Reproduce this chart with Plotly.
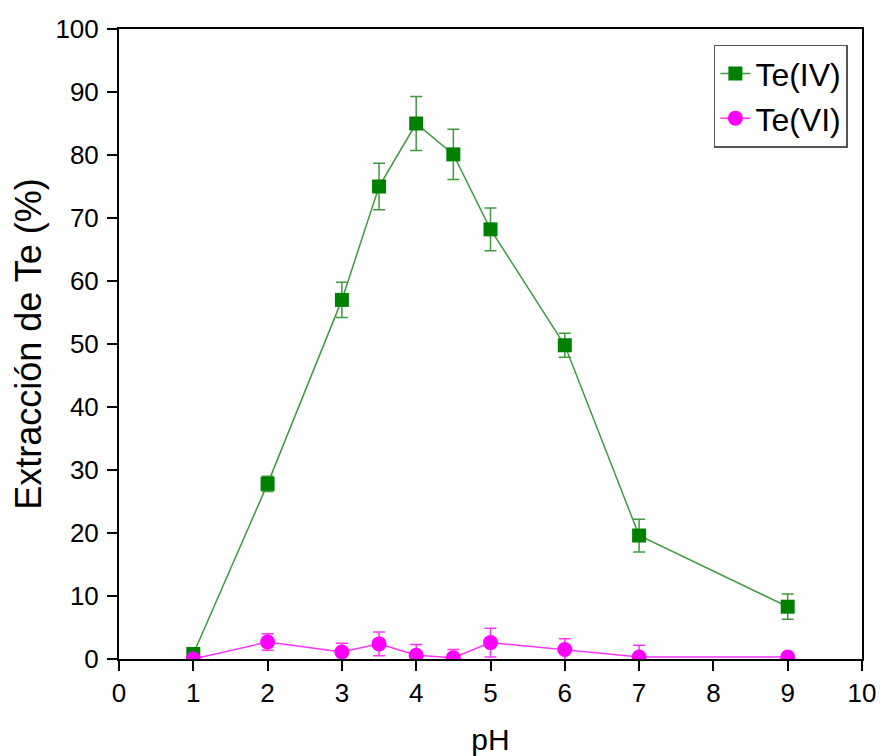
import plotly.graph_objects as go

ph = [1, 2, 3, 3.5, 4, 4.5, 5, 6, 7, 9]
te_iv = [0.8, 27.8, 57.0, 75.0, 85.0, 80.1, 68.2, 49.8, 19.6, 8.3]
te_iv_err = [0.5, 1.2, 2.8, 3.7, 4.3, 4.0, 3.4, 1.9, 2.6, 2.0]
te_vi = [0.0, 2.7, 1.1, 2.4, 0.6, 0.2, 2.6, 1.5, 0.3, 0.3]
te_vi_err = [0.4, 1.3, 1.4, 1.9, 1.7, 1.3, 2.3, 1.7, 1.9, 0.3]

x_ticks = list(range(0, 11))
y_ticks = list(range(0, 101, 10))

FONT = "Liberation Sans, Arial"

fig = go.Figure()
fig.add_trace(go.Scatter(
    x=ph, y=te_iv, name="Te(IV)", mode="lines+markers",
    line=dict(color="#3f9a3f", width=1.5),
    marker=dict(symbol="square", size=14, color="#008000"),
    error_y=dict(type="data", array=te_iv_err, visible=True, color="#3f9a3f", thickness=1.5, width=6),
))
fig.add_trace(go.Scatter(
    x=ph, y=te_vi, name="Te(VI)", mode="lines+markers",
    line=dict(color="#ff33ff", width=1.5),
    marker=dict(symbol="circle", size=15, color="#ff00ff"),
    error_y=dict(type="data", array=te_vi_err, visible=True, color="#ff33ff", thickness=1.5, width=6),
))

axis_common = dict(
    showline=True, linecolor="black", linewidth=2, mirror=True,
    ticks="outside", ticklen=10, tickwidth=2, tickcolor="black",
    showgrid=False, zeroline=False,
    tickfont=dict(family=FONT, size=26, color="black"),
)
fig.update_xaxes(range=[0, 10], tickvals=x_ticks,
                 title=dict(text="pH", font=dict(family=FONT, size=30, color="black"), standoff=22),
                 **axis_common)
fig.update_yaxes(range=[0, 100], tickvals=y_ticks, ticklabelstandoff=3,
                 title=dict(text="Extracción de Te (%)", font=dict(family=FONT, size=36, color="black"), standoff=12),
                 **axis_common)

fig.update_layout(
    width=876, height=748,
    margin=dict(l=111, r=22, t=21, b=97, autoexpand=False),
    plot_bgcolor="white", paper_bgcolor="white",
    legend=dict(x=0.981, y=0.975, xanchor="right", yanchor="top",
                bordercolor="#555555", borderwidth=1.5, bgcolor="white",
                font=dict(family=FONT, size=32, color="black"),
                tracegroupgap=0),
)

fig.write_html("out.html")
